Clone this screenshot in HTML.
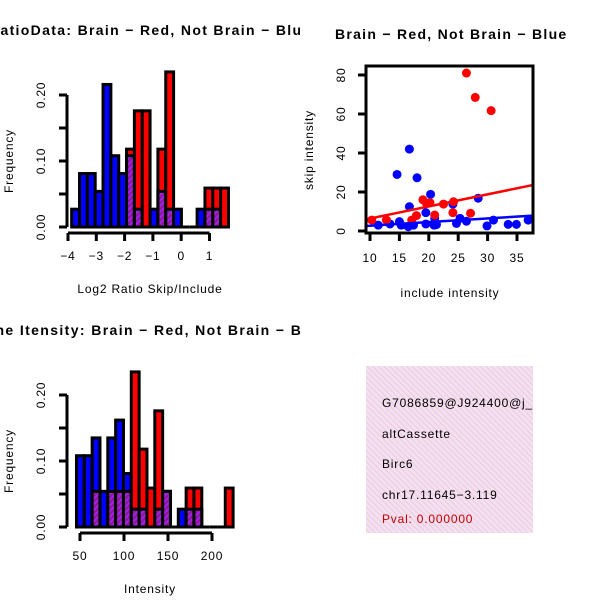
<!DOCTYPE html>
<html><head><meta charset="utf-8"><style>
html,body{margin:0;padding:0;background:#fff;}
svg{display:block;font-family:"Liberation Sans",sans-serif;}
svg text{letter-spacing:0.8px;}
</style></head><body>
<svg id="c" width="600" height="600" viewBox="0 0 600 600">
<defs>
<pattern id="hatchP" width="4" height="4" patternUnits="userSpaceOnUse" patternTransform="rotate(45)">
<rect width="4" height="4" fill="#a020f0"/><rect width="2" height="4" fill="#8b1a8b"/></pattern>
<pattern id="pinkP" width="4" height="4" patternUnits="userSpaceOnUse" patternTransform="rotate(-45)">
<rect width="4" height="4" fill="#f9dcf5"/><rect width="1" height="4" fill="#ddd5cf"/></pattern>
<clipPath id="clipL"><rect x="0" y="0" width="300" height="300"/></clipPath>
<clipPath id="clipBL"><rect x="0" y="300" width="300" height="300"/></clipPath>
<clipPath id="clipBox"><rect x="366" y="366" width="167" height="167"/></clipPath>
</defs>
<g id="tl" clip-path="url(#clipL)"></g>
<g id="bl" clip-path="url(#clipBL)"></g>
<g id="tr"></g>
<g id="box">
<rect x="366" y="366" width="167" height="167" fill="url(#pinkP)"/>
<g clip-path="url(#clipBox)" font-size="12">
<text x="382" y="407">G7086859@J924400@j_</text>
<text x="382" y="438">altCassette</text>
<text x="382" y="468">Birc6</text>
<text x="382" y="499">chr17.11645−3.119</text>
<text x="382" y="523" fill="#c00000">Pval: 0.000000</text>
</g></g>
</svg>
<script>
const NS="http://www.w3.org/2000/svg";
// top-left histogram data (log2 ratio)
const ratioBinStart=-3.87, ratioBinWidth=0.277;
const ratioBlue=[0.027,0.081,0.081,0.054,0.216,0.108,0.081,0.108,0.027,0,0.027,0.054,0.027,0.027,0,0,0.027,0.027,0.027,0];
const ratioRed=[0,0,0,0,0,0,0,0.118,0.176,0.176,0,0.118,0.235,0,0,0,0,0.059,0.059,0.059];
const ratioTicks=[-4,-3,-2,-1,0,1];
// bottom-left histogram data (intensity)
const intBinStart=46, intBinWidth=8.9;
const intBlue=[0.108,0.108,0.135,0.054,0.135,0.162,0.081,0.027,0.027,0,0.027,0.054,0,0.027,0.027,0.027,0,0,0,0];
const intRed=[0,0,0.054,0,0.054,0.054,0.054,0.235,0.118,0.059,0.176,0.054,0,0,0.059,0.059,0,0,0,0.059];
const intTicks=[50,100,150,200];
const freqTicks=[0,0.05,0.10,0.15,0.20];
const freqLabels=["0.00","","0.10","","0.20"];
// scatter data
const redX=[26.4,27.9,30.6,10.3,12.8,19,20.2,17.9,17.1,21,22.5,24.1,27.1,24.2,19.6];
const redY=[81,68.5,61.7,5.6,5.6,16,14.5,7.9,5.6,8.2,13.8,9.4,9.1,15,14.2];
const blueX=[16.7,14.6,18,20.3,16.7,19.5,24.1,28.4,11.4,13.4,15,16.5,17.4,19.5,21,21.3,24.7,25.3,26.4,29.9,31,33.5,34.9,36.9,20.9,15.3];
const blueY=[42,29,27.3,18.8,12.5,9.4,13.8,16.8,3,3.6,4.8,2.2,3,3.6,6.5,3.3,3.9,6.5,5,2.6,5.6,3.4,3.4,5.6,3,3];
const redFit=[0.2,0.62], blueFit=[0.84,0.187];
const sxTicks=[10,15,20,25,30,35], syTicks=[0,20,40,60,80];

function mk(p,tag,a,name,txt){const e=document.createElementNS(NS,tag);for(const k in a)e.setAttribute(k,a[k]);


if(txt!==undefined)e.textContent=txt;p.appendChild(e);return e;}

function hist(g,oy,blue,red,bs,bw,xTicks,xScale,title,titleLen,xlab,pre){
  const y=v=>oy-v*660;
  mk(g,'line',{x1:67,y1:y(0),x2:67,y2:y(0.2),stroke:'#000','stroke-width':3},pre+'-y-axis');
  freqTicks.forEach((t,i)=>{mk(g,'line',{x1:59,y1:y(t),x2:67,y2:y(t),stroke:'#000','stroke-width':3},pre+'-y-tick');
    if(freqLabels[i]){mk(g,'text',{x:0,y:0,'font-size':12,'text-anchor':'middle',transform:`translate(45,${y(t)}) rotate(-90)`},pre+'-y-tick-label',freqLabels[i]);}});
  mk(g,'text',{x:0,y:0,'font-size':12,'text-anchor':'middle',transform:`translate(13,${y(0.1)}) rotate(-90)`},pre+'-y-axis-title','Frequency');
  const n=blue.length;
  for(let i=0;i<n;i++){
    const x0=xScale(bs+i*bw), x1=xScale(bs+(i+1)*bw);
    const b=blue[i], r=red[i], mx=Math.max(b,r), mn=Math.min(b,r);
    if(mx>0) mk(g,'rect',{x:x0,y:y(mx),width:x1-x0,height:y(0)-y(mx),fill:b>=r?'#0000ff':'#ff0000',stroke:'#000','stroke-width':3},pre+(b>=r?'-blue-bar':'-red-bar'));
    if(mn>0) mk(g,'rect',{x:x0,y:y(mn),width:x1-x0,height:y(0)-y(mn),fill:'url(#hatchP)',stroke:'#000','stroke-width':3},pre+'-overlap-bar');
    if(mx===0) mk(g,'line',{x1:x0,y1:y(0),x2:x1,y2:y(0),stroke:'#000','stroke-width':3},pre+'-empty-bin');
  }
  const ax=oy+6;
  mk(g,'line',{x1:xScale(xTicks[0]),y1:ax,x2:xScale(xTicks[xTicks.length-1]),y2:ax,stroke:'#000','stroke-width':3},pre+'-x-axis');
  xTicks.forEach(t=>{mk(g,'line',{x1:xScale(t),y1:ax,x2:xScale(t),y2:ax+8,stroke:'#000','stroke-width':3},pre+'-x-tick');
    mk(g,'text',{x:xScale(t),y:ax+27,'font-size':12,'text-anchor':'middle'},pre+'-x-tick-label',String(t).replace('-','−'));});
  mk(g,'text',{x:150,y:oy+66,'font-size':12,'text-anchor':'middle'},pre+'-x-axis-title',xlab);
  mk(g,'text',{x:150-titleLen/2,y:oy-192,'font-size':14,'font-weight':'bold',textLength:titleLen,lengthAdjust:'spacing'},pre+'-title',title);
}
hist(document.getElementById('tl'),227,ratioBlue,ratioRed,ratioBinStart,ratioBinWidth,ratioTicks,v=>68+(v+4)*28.3,
 'RatioData: Brain − Red, Not Brain − Blue',322,'Log2 Ratio Skip/Include','ratio');
hist(document.getElementById('bl'),527,intBlue,intRed,intBinStart,intBinWidth,intTicks,v=>80+(v-50)*0.88,
 'Gene Itensity: Brain − Red, Not Brain − Blue',352,'Intensity','intensity');

const g=document.getElementById('tr');
const sx=v=>370+(v-10)*5.88, sy=v=>231-v*1.95;
mk(g,'text',{x:335,y:39,'font-size':14,'font-weight':'bold',textLength:232,lengthAdjust:'spacing'},'scatter-title','Brain − Red, Not Brain − Blue');
const cp=mk(g,'clipPath',{id:'clipS'},'scatter-clip');
mk(cp,'rect',{x:366,y:66,width:167,height:167},'scatter-clip-rect');
const pg=mk(g,'g',{'clip-path':'url(#clipS)'},'scatter-plot-area');
blueX.forEach((v,i)=>mk(pg,'circle',{cx:sx(v),cy:sy(blueY[i]),r:4.5,fill:'#0000ff'},'blue-point'));
redX.forEach((v,i)=>mk(pg,'circle',{cx:sx(v),cy:sy(redY[i]),r:4.5,fill:'#ff0000'},'red-point'));
[[redFit,'#ff0000','red-fit-line'],[blueFit,'#0000ff','blue-fit-line']].forEach(([f,c,n])=>{
  mk(pg,'line',{x1:sx(9),y1:sy(f[0]+f[1]*9),x2:sx(39),y2:sy(f[0]+f[1]*39),stroke:c,'stroke-width':2.5},n);});
mk(g,'rect',{x:366,y:66,width:167,height:167,fill:'none',stroke:'#000','stroke-width':3},'scatter-frame');
sxTicks.forEach(t=>{mk(g,'line',{x1:sx(t),y1:233,x2:sx(t),y2:241,stroke:'#000','stroke-width':3},'scatter-x-tick');
  mk(g,'text',{x:sx(t),y:262,'font-size':12,'text-anchor':'middle'},'scatter-x-tick-label',String(t));});
syTicks.forEach(t=>{mk(g,'line',{x1:358,y1:sy(t),x2:366,y2:sy(t),stroke:'#000','stroke-width':3},'scatter-y-tick');
  mk(g,'text',{x:0,y:0,'font-size':12,'text-anchor':'middle',transform:`translate(345,${sy(t)}) rotate(-90)`},'scatter-y-tick-label',String(t));});
mk(g,'text',{x:450,y:297,'font-size':12,'text-anchor':'middle'},'scatter-x-axis-title','include intensity');
mk(g,'text',{x:0,y:0,'font-size':12,'text-anchor':'middle',transform:'translate(313,150) rotate(-90)'},'scatter-y-axis-title','skip intensity');
</script>
</body></html>
